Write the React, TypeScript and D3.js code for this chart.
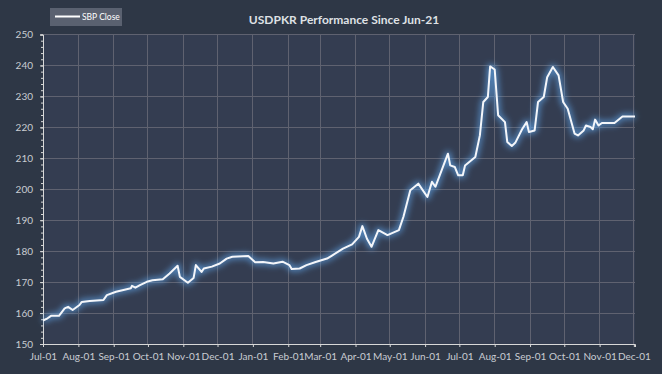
import React, { useEffect, useRef } from "react";
import * as d3 from "d3";

// SBP close, USD/PKR
const dates = [
  "2021-07-01", "2021-07-05", "2021-07-08", "2021-07-15", "2021-07-20", "2021-07-23",
  "2021-07-27", "2021-08-02", "2021-08-04", "2021-08-11", "2021-08-23", "2021-08-26",
  "2021-09-03", "2021-09-16", "2021-09-17", "2021-09-20", "2021-09-24", "2021-09-30",
  "2021-10-05", "2021-10-14", "2021-10-20", "2021-10-27", "2021-10-29", "2021-11-05",
  "2021-11-10", "2021-11-12", "2021-11-17", "2021-11-19", "2021-11-26", "2021-12-03",
  "2021-12-09", "2021-12-14", "2021-12-28", "2022-01-03", "2022-01-10", "2022-01-19",
  "2022-01-27", "2022-02-02", "2022-02-04", "2022-02-11", "2022-02-17", "2022-02-25",
  "2022-03-07", "2022-03-11", "2022-03-21", "2022-03-29", "2022-04-04", "2022-04-07",
  "2022-04-11", "2022-04-15", "2022-04-21", "2022-04-29", "2022-05-09", "2022-05-13",
  "2022-05-19", "2022-05-26", "2022-06-03", "2022-06-07", "2022-06-10", "2022-06-21",
  "2022-06-23", "2022-06-27", "2022-06-30", "2022-07-04", "2022-07-06", "2022-07-15",
  "2022-07-19", "2022-07-22", "2022-07-26", "2022-07-28", "2022-08-01", "2022-08-04",
  "2022-08-10", "2022-08-12", "2022-08-16", "2022-08-19", "2022-08-25", "2022-08-29",
  "2022-08-31", "2022-09-05", "2022-09-08", "2022-09-13", "2022-09-16", "2022-09-21",
  "2022-09-26", "2022-09-30", "2022-10-04", "2022-10-10", "2022-10-13", "2022-10-18",
  "2022-10-20", "2022-10-24", "2022-10-26", "2022-10-28", "2022-10-31", "2022-11-03",
  "2022-11-14", "2022-11-21", "2022-12-02",
];
const closes = [
  157.6, 158.3, 159.1, 159.1, 161.5, 162.0,
  161.0, 162.6, 163.6, 163.9, 164.2, 165.8,
  166.9, 168.0, 168.8, 168.2, 169.0, 170.1,
  170.6, 170.9, 172.8, 175.3, 171.7, 169.8,
  171.3, 175.5, 173.3, 174.4, 175.0, 176.0,
  177.6, 178.2, 178.4, 176.4, 176.5, 176.0,
  176.6, 175.5, 174.2, 174.4, 175.5, 176.5,
  177.6, 178.5, 180.8, 182.2, 184.6, 188.1,
  184.0, 181.4, 186.8, 185.2, 186.8, 191.1,
  199.7, 201.8, 197.5, 202.4, 200.8, 211.5,
  207.7, 207.2, 204.5, 204.5, 207.7, 210.4,
  217.4, 228.2, 229.8, 239.7, 238.7, 223.9,
  221.7, 215.3, 214.0, 215.0, 219.4, 221.7,
  218.5, 219.0, 228.2, 229.8, 236.2, 239.5,
  236.8, 228.2, 226.0, 218.0, 217.4, 219.0,
  220.6, 220.1, 219.4, 222.5, 220.6, 221.4,
  221.4, 223.5, 223.5,
];
const yTicks = [150, 160, 170, 180, 190, 200, 210, 220, 230, 240, 250];
const title = "USDPKR Performance Since Jun-21";
const seriesName = "SBP Close";

const W = 662;
const H = 374;
const margin = { top: 34.5, right: 27, bottom: 30, left: 43 };
const font = "Lato, 'Open Sans', sans-serif";

function App() {
  const ref = useRef<SVGSVGElement>(null);

  useEffect(() => {
    const parse = d3.timeParse("%Y-%m-%d");
    const data = dates.map((d, i) => ({ date: parse(d) as Date, value: closes[i] }));

    const svg = d3.select(ref.current);
    svg.selectAll("*").remove();

    const x = d3.scaleTime()
      .domain([parse("2021-07-01") as Date, parse("2022-12-02") as Date])
      .range([margin.left, W - margin.right]);
    const y = d3.scaleLinear()
      .domain([150, 250])
      .range([H - margin.bottom, margin.top]);

    const defs = svg.append("defs");
    const glow = defs.append("filter").attr("id", "glow")
      .attr("x", "-10%").attr("y", "-10%").attr("width", "120%").attr("height", "120%");
    glow.append("feGaussianBlur").attr("stdDeviation", 3);

    svg.append("rect").attr("width", W).attr("height", H).attr("fill", "#2e3746");
    svg.append("rect")
      .attr("x", margin.left).attr("y", margin.top)
      .attr("width", W - margin.right - margin.left)
      .attr("height", H - margin.bottom - margin.top)
      .attr("fill", "#343d51");

    const monthTicks = d3.timeMonth.range(parse("2021-07-01") as Date, parse("2022-12-02") as Date);

    // grid
    svg.append("g").selectAll("line").data(monthTicks.slice(1)).join("line")
      .attr("x1", d => x(d)).attr("x2", d => x(d))
      .attr("y1", margin.top).attr("y2", H - margin.bottom)
      .attr("stroke", "#5f6270").attr("stroke-width", 1).attr("shape-rendering", "crispEdges");
    svg.append("g").selectAll("line").data(yTicks.slice(1)).join("line")
      .attr("x1", margin.left).attr("x2", W - margin.right)
      .attr("y1", d => y(d)).attr("y2", d => y(d))
      .attr("stroke", "#5f6270").attr("stroke-width", 1).attr("shape-rendering", "crispEdges");

    // y axis
    const yAxis = svg.append("g")
      .attr("transform", `translate(${margin.left},0)`)
      .call(d3.axisLeft(y).tickValues(yTicks).tickSize(3).tickPadding(7));
    svg.append("g")
      .attr("transform", `translate(${margin.left},0)`)
      .call(d3.axisLeft(y).tickValues(d3.range(150, 251, 2)).tickSize(2).tickFormat(() => ""))
      .call(g => g.select(".domain").remove())
      .selectAll("line").attr("stroke", "#d8d8d8");

    // x axis
    const xAxis = svg.append("g")
      .attr("transform", `translate(0,${H - margin.bottom})`)
      .call(d3.axisBottom(x).tickValues(monthTicks).tickFormat(d3.timeFormat("%b-%d") as any)
        .tickSize(3).tickPadding(6));

    [xAxis, yAxis].forEach(g => {
      g.select(".domain").attr("stroke", "#d8d8d8");
      g.selectAll(".tick line").attr("stroke", "#d8d8d8");
      g.selectAll("text")
        .attr("fill", "#c9ccd2")
        .style("font-family", font)
        .style("font-size", "10px");
    });

    const line = d3.line<{ date: Date; value: number }>()
      .x(d => x(d.date))
      .y(d => y(d.value));

    svg.append("path").datum(data)
      .attr("d", line)
      .attr("fill", "none")
      .attr("stroke", "#5fa2e6")
      .attr("stroke-width", 5)
      .attr("stroke-opacity", 0.8)
      .attr("stroke-linejoin", "round")
      .attr("filter", "url(#glow)");
    svg.append("path").datum(data)
      .attr("d", line)
      .attr("fill", "none")
      .attr("stroke", "#f4f6fa")
      .attr("stroke-width", 2)
      .attr("stroke-linejoin", "round");

    // title
    svg.append("text")
      .attr("x", 344).attr("y", 24)
      .attr("text-anchor", "middle")
      .attr("fill", "#dfe1e5")
      .style("font-family", font)
      .style("font-weight", "bold")
      .style("font-size", "12px")
      .text(title);

    // legend
    const lg = svg.append("g");
    lg.append("rect").attr("x", 50).attr("y", 8).attr("width", 72).attr("height", 18)
      .attr("fill", "#5a6170");
    lg.append("line").attr("x1", 55).attr("x2", 80).attr("y1", 16.5).attr("y2", 16.5)
      .attr("stroke", "#ffffff").attr("stroke-width", 2);
    lg.append("text").attr("x", 82).attr("y", 20)
      .attr("fill", "#ffffff")
      .style("font-family", font)
      .style("font-size", "8.5px")
      .text(seriesName);
  }, []);

  return (
    <svg ref={ref} width={W} height={H}
      style={{ position: "absolute", left: 0, top: 0, display: "block" }} />
  );
}

export default App;
